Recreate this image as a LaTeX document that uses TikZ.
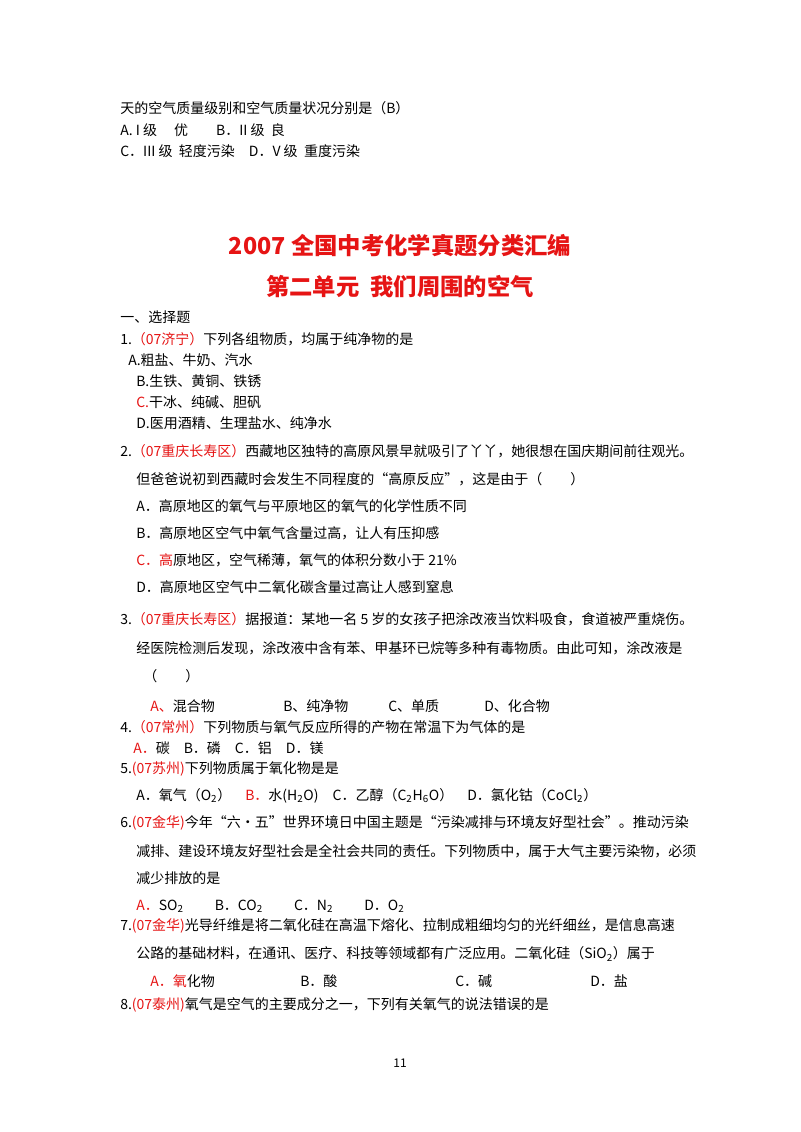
\documentclass[tikz,border=0pt]{standalone}
\usepackage{fontspec}
\setmainfont{Noto Sans CJK SC}
\newfontfamily\lat{Carlito}
\definecolor{rd}{RGB}{230,20,20}
\newcommand{\R}[1]{\textcolor{rd}{#1}}
\newcommand{\s}[1]{\textsubscript{#1}}
\begin{document}
\begin{tikzpicture}[x=0.75pt,y=-0.75pt,
  tx/.style={anchor=west,inner sep=0pt,font=\fontsize{10.5pt}{12pt}\selectfont},
  ti/.style={anchor=center,inner sep=0pt,text=rd,font=\fontsize{17.5pt}{20pt}\selectfont\bfseries}]
\useasboundingbox[fill=white] (0,0) rectangle (800,1132);
\node[tx] (a1) at (120,108) {天的空气质量级别和空气质量状况分别是（B）};
\node[tx] (a2) at (120,130) {A. I 级\quad\ 优\qquad B．II 级\ \ 良};
\node[tx] (a3) at (120,151) {C．III 级\ \ 轻度污染\quad D．V 级\ \ 重度污染};
\node[ti] (h1) at (400,246) {2007 全国中考化学真题分类汇编};
\node[ti] (h2) at (400,287) {第二单元\ \ 我们周围的空气};
\node[tx] (b0) at (120,317) {一、选择题};
\node[tx] (q1) at (120,339) {1.\R{（07济宁）}下列各组物质，均属于纯净物的是};
\node[tx] (q1a) at (128,360) {A.粗盐、牛奶、汽水};
\node[tx] (q1b) at (136,381) {B.生铁、黄铜、铁锈};
\node[tx] (q1c) at (136,402) {\R{C.}干冰、纯碱、胆矾};
\node[tx] (q1d) at (136,423) {D.医用酒精、生理盐水、纯净水};
\node[tx] (q2) at (120,451) {2.\R{（07重庆长寿区）}西藏地区独特的高原风景早就吸引了丫丫，她很想在国庆期间前往观光。};
\node[tx] (q2b) at (136,479) {但爸爸说初到西藏时会发生不同程度的“高原反应”，这是由于（\qquad ）};
\node[tx] (q2A) at (136,506) {A．高原地区的氧气与平原地区的氧气的化学性质不同};
\node[tx] (q2B) at (136,533) {B．高原地区空气中氧气含量过高，让人有压抑感};
\node[tx] (q2C) at (136,560) {\R{C．高}原地区，空气稀薄，氧气的体积分数小于 21\%};
\node[tx] (q2D) at (136,587) {D．高原地区空气中二氧化碳含量过高让人感到窒息};
\node[tx] (q3) at (120,619) {3.\R{（07重庆长寿区）}据报道：某地一名 5 岁的女孩子把涂改液当饮料吸食，食道被严重烧伤。};
\node[tx] (q3b) at (136,648) {经医院检测后发现，涂改液中含有苯、甲基环已烷等多种有毒物质。由此可知，涂改液是};
\node[tx] (q3c) at (143,676) {（\qquad ）};
\node[tx] (q3A) at (150,706) {\R{A、}混合物};
\node[tx] (q3B) at (283,706) {B、纯净物};
\node[tx] (q3C) at (388,706) {C、单质};
\node[tx] (q3D) at (484,706) {D、化合物};
\node[tx] (q4) at (120,727) {4.\R{（07常州）}下列物质与氧气反应所得的产物在常温下为气体的是};
\node[tx] (q4a) at (133,748) {\R{A．}碳\quad B．磷\quad C．铝\quad D．镁};
\node[tx] (q5) at (120,769) {5.\R{(07苏州)}下列物质属于氧化物是是};
\node[tx] (q5a) at (136,796) {A．氧气（O\s{2}）\quad \R{B．}水(H\s{2}O)\quad C．乙醇（C\s{2}H\s{6}O）\quad D．氯化钴（CoCl\s{2}）};
\node[tx] (q6) at (120,823) {6.\R{(07金华)}今年“六·五”世界环境日中国主题是“污染减排与环境友好型社会”。推动污染};
\node[tx] (q6b) at (136,851) {减排、建设环境友好型社会是全社会共同的责任。下列物质中，属于大气主要污染物，必须};
\node[tx] (q6c) at (136,878) {减少排放的是};
\node[tx] (q6a) at (136,906) {\R{A．}SO\s{2}\qquad\ B．CO\s{2}\qquad\ C．N\s{2}\qquad\ D．O\s{2}};
\node[tx] (q7) at (120,926) {7.\R{(07金华)}光导纤维是将二氧化硅在高温下熔化、拉制成粗细均匀的光纤细丝，是信息高速};
\node[tx] (q7b) at (136,954) {公路的基础材料，在通讯、医疗、科技等领域都有广泛应用。二氧化硅（SiO\s{2}）属于};
\node[tx] (q7A) at (150,981) {\R{A．氧}化物};
\node[tx] (q7B) at (300,981) {B．酸};
\node[tx] (q7C) at (455,981) {C．碱};
\node[tx] (q7D) at (590,981) {D．盐};
\node[tx] (q8) at (120,1005) {8.\R{(07泰州)}氧气是空气的主要成分之一，下列有关氧气的说法错误的是};
\node[tx,anchor=center,font=\fontsize{9pt}{10pt}\selectfont] (pg) at (400,1063) {11};
\end{tikzpicture}
\end{document}
